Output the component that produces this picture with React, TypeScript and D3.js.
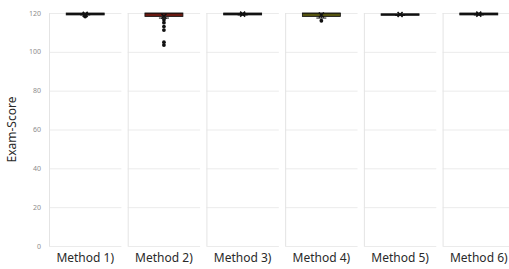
import React, { useRef, useEffect } from 'react'
import * as d3 from 'd3'

const methods = ['Method 1)', 'Method 2)', 'Method 3)', 'Method 4)', 'Method 5)', 'Method 6)']
const q1 = [119, 118.2, 119, 118.2, 118.8, 119]
const median = [119.5, 119.8, 119.5, 119.8, 119.2, 119.5]
const q3 = [120, 120, 120, 120, 119.6, 120]
const whiskerLow = [119, 117.4, 119, 117.4, 118.8, 119]
const whiskerHigh = [120, 120, 120, 120, 119.6, 120]
const means = [119.3, 118.3, 119.4, 119.0, 119.2, 119.4]
const outliers = [[118.2], [116.5, 115, 113, 111.2, 105, 103.5], [], [116], [], []]
const boxFill = ['#111', '#6a1a12', '#111', '#55530f', '#111', '#111']
const yTicks = [0, 20, 40, 60, 80, 100, 120]

export default function App() {
  const ref = useRef<HTMLDivElement>(null)

  useEffect(() => {
    const el = ref.current
    if (!el) return
    document.body.style.margin = '0'
    const width = 509
    const height = 269
    d3.select(el).selectAll('*').remove()

    const svg = d3.select(el).append('svg')
      .attr('width', width).attr('height', height)
      .style('display', 'block').style('background', '#fff')

    const x = d3.scaleBand<string>().domain(methods).range([49, 515]).paddingInner(0.08)
    const y = d3.scaleLinear().domain([0, 120]).range([246, 13])
    const bw = x.bandwidth()
    const boxW = 38

    // panels
    methods.forEach((m) => {
      const x0 = x(m) as number
      const g = svg.append('g')
      g.selectAll('line.grid').data(yTicks).enter().append('line')
        .attr('x1', x0).attr('x2', x0 + bw)
        .attr('y1', d => y(d) + 0.5).attr('y2', d => y(d) + 0.5)
        .attr('stroke', '#ebebeb').attr('stroke-width', 1)
      g.append('line')
        .attr('x1', x0 + 0.5).attr('x2', x0 + 0.5)
        .attr('y1', y(120)).attr('y2', y(0))
        .attr('stroke', '#e4e4e4')
      svg.append('text')
        .attr('x', x0 + bw / 2).attr('y', 262)
        .attr('text-anchor', 'middle')
        .attr('font-family', 'Noto Sans, sans-serif').attr('font-size', 12)
        .attr('fill', '#2a2a2a')
        .text(m)
    })

    // y tick labels
    svg.selectAll('text.tick').data(yTicks).enter().append('text')
      .attr('x', 41).attr('y', d => y(d) + 2.5)
      .attr('text-anchor', 'end')
      .attr('font-family', 'Noto Sans, sans-serif').attr('font-size', 7)
      .attr('fill', '#8c8c8c')
      .text(d => d)

    svg.append('text')
      .attr('transform', `translate(16,${(y(0) + y(120)) / 2}) rotate(-90)`)
      .attr('text-anchor', 'middle')
      .attr('font-family', 'Noto Sans, sans-serif').attr('font-size', 12)
      .attr('fill', '#2a2a2a')
      .text('Exam-Score')

    // boxes
    methods.forEach((m, i) => {
      const cx = (x(m) as number) + bw / 2
      const g = svg.append('g')
      g.append('line')
        .attr('x1', cx).attr('x2', cx)
        .attr('y1', y(q1[i])).attr('y2', y(whiskerLow[i]))
        .attr('stroke', '#111').attr('stroke-width', 1)
      g.append('line')
        .attr('x1', cx - 5).attr('x2', cx + 5)
        .attr('y1', y(whiskerLow[i])).attr('y2', y(whiskerLow[i]))
        .attr('stroke', '#111').attr('stroke-width', 1)
      g.append('line')
        .attr('x1', cx).attr('x2', cx)
        .attr('y1', y(q3[i])).attr('y2', y(whiskerHigh[i]))
        .attr('stroke', '#111').attr('stroke-width', 1)
      g.append('rect')
        .attr('x', cx - boxW / 2).attr('width', boxW)
        .attr('y', y(q3[i])).attr('height', Math.max(0, y(q1[i]) - y(q3[i])))
        .attr('fill', boxFill[i]).attr('stroke', '#111').attr('stroke-width', 0.8)
      g.append('line')
        .attr('x1', cx - boxW / 2).attr('x2', cx + boxW / 2)
        .attr('y1', y(median[i])).attr('y2', y(median[i]))
        .attr('stroke', '#111').attr('stroke-width', 0.6)
      const my = y(means[i])
      g.append('path')
        .attr('d', `M${cx - 2.5},${my - 2.5}L${cx + 2.5},${my + 2.5}M${cx - 2.5},${my + 2.5}L${cx + 2.5},${my - 2.5}`)
        .attr('stroke', '#111').attr('stroke-width', 1.6).attr('fill', 'none')
      g.selectAll('circle').data(outliers[i]).enter().append('circle')
        .attr('cx', cx).attr('cy', d => y(d)).attr('r', 1.9)
        .attr('fill', '#111')
    })
  }, [])

  return <div ref={ref} style={{ width: 509, height: 269 }} />
}
